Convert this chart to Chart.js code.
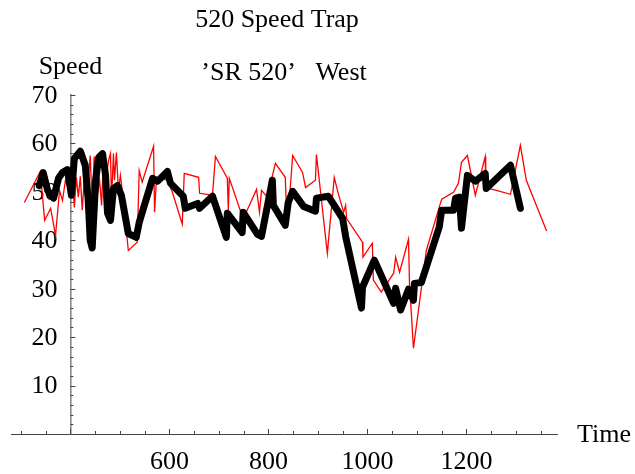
<!DOCTYPE html>
<html>
<head>
<meta charset="utf-8">
<script src="https://cdn.jsdelivr.net/npm/chart.js@4/dist/chart.umd.min.js"></script>
<style>
  html, body { margin: 0; padding: 0; background: #fff; }
  #wrap { width: 635px; height: 474px; }
</style>
</head>
<body>
<div id="wrap"><canvas id="speedChart" width="635" height="474"></canvas></div>
<script>
// raw detector readings (thin red) and the smoothed trace (thick black)
const rawTime = [307, 339, 348, 360, 370, 378, 384, 390, 396, 404, 408, 412, 416, 420, 424, 428, 432, 436, 440, 444,
  448, 453, 459, 463, 467, 473, 477, 481, 483, 487, 489, 493, 497, 501, 507, 517, 535, 539, 545, 568,
  570, 574, 596, 606, 626, 630, 659, 661, 687, 693, 717, 719, 721, 743, 756, 776, 782, 786, 798, 814,
  834, 838, 849, 869, 875, 895, 897, 919, 933, 941, 952, 956, 958, 990, 991, 1010, 1012, 1028, 1053, 1057,
  1065, 1083, 1085, 1093, 1119, 1150, 1174, 1184, 1190, 1202, 1218, 1238, 1239, 1289, 1309, 1321, 1362];
const rawSpeed = [47.8, 54.2, 44.1, 46.6, 41.0, 50.3, 48.2, 52.4, 50.7, 52.8, 46.8, 53.0, 48.9, 53.2, 46.2, 52.8, 49.3, 51.8, 57.5, 47.2,
  57.3, 48.2, 52.4, 47.2, 57.1, 53.4, 56.5, 57.9, 48.2, 57.9, 52.4, 58.1, 50.3, 53.4, 48.2, 37.9, 39.6, 54.4, 52.0, 59.4,
  45.8, 53.0, 52.4, 49.9, 43.3, 53.8, 53.0, 49.7, 49.3, 57.3, 52.8, 46.2, 52.8, 46.2, 46.0, 50.5, 45.8, 50.3, 48.9, 55.9,
  53.0, 42.5, 57.5, 54.0, 50.9, 52.4, 57.7, 37.3, 53.0, 49.7, 45.8, 47.2, 44.5, 39.6, 36.5, 39.4, 31.8, 29.3, 33.2, 36.5,
  33.4, 40.2, 31.1, 17.7, 37.9, 48.5, 49.9, 51.8, 56.1, 57.5, 49.3, 57.3, 50.9, 49.5, 59.6, 52.4, 41.9];

const smoothTime = [337, 345, 354, 366, 376, 384, 394, 402, 408, 420, 430, 436, 440, 444, 451, 457, 465, 471, 475, 481,
  487, 495, 503, 517, 533, 539, 566, 576, 596, 602, 628, 632, 657, 661, 687, 715, 717, 747, 749, 778,
  786, 808, 810, 834, 840, 849, 871, 895, 897, 921, 950, 956, 988, 990, 1014, 1053, 1057, 1067, 1083, 1093,
  1095, 1109, 1145, 1150, 1174, 1178, 1186, 1190, 1202, 1218, 1238, 1240, 1289, 1309];
const smoothSpeed = [51.3, 54.0, 50.3, 48.7, 52.8, 54.0, 54.6, 49.3, 56.9, 58.4, 55.5, 48.2, 40.0, 38.4, 52.4, 57.1, 57.9, 53.4, 45.6, 44.1,
  50.7, 51.3, 49.3, 41.4, 40.6, 43.7, 52.8, 52.2, 54.2, 51.8, 49.1, 46.6, 47.6, 46.6, 49.1, 40.6, 45.6, 41.6, 45.8, 41.2,
  40.8, 52.4, 47.2, 43.1, 47.8, 50.1, 47.0, 46.0, 48.7, 49.1, 44.5, 40.8, 26.0, 30.3, 35.9, 27.0, 30.1, 25.6, 29.9, 27.6,
  31.1, 31.3, 42.7, 46.2, 46.2, 48.7, 48.9, 42.5, 53.4, 52.2, 53.8, 50.7, 55.5, 46.6];

const xTickLabels = [600, 800, 1000, 1200];
const yTickLabels = [10, 20, 30, 40, 50, 60, 70];

const serif = '"Liberation Serif", "Times New Roman", Times, serif';

// ejes al estilo Mathematica: cruzan en (400, 0), marcas hacia dentro
const axesPlugin = {
  id: 'axesPlugin',
  beforeDatasetsDraw(chart) {
    const ctx = chart.ctx;
    const xs = chart.scales.x;
    const ys = chart.scales.y;
    const y0 = ys.getPixelForValue(0);
    const x0 = xs.getPixelForValue(400);

    ctx.save();
    ctx.strokeStyle = '#444';
    ctx.lineWidth = 1;
    ctx.beginPath();
    ctx.moveTo(chart.chartArea.left, y0 + 0.5);
    ctx.lineTo(chart.chartArea.right, y0 + 0.5);
    ctx.moveTo(x0 + 0.5, y0);
    ctx.lineTo(x0 + 0.5, ys.getPixelForValue(70) - 1);
    ctx.stroke();

    ctx.beginPath();
    for (let t = 300; t <= 1350; t += 50) {
      const px = Math.round(xs.getPixelForValue(t)) + 0.5;
      const len = t % 200 === 0 ? 5 : 3;
      ctx.moveTo(px, y0);
      ctx.lineTo(px, y0 - len);
    }
    for (let v = 2; v <= 70; v += 2) {
      const py = Math.round(ys.getPixelForValue(v)) + 0.5;
      const len = v % 10 === 0 ? 5 : 3;
      ctx.moveTo(x0, py);
      ctx.lineTo(x0 + len, py);
    }
    ctx.stroke();

    ctx.fillStyle = '#000';
    ctx.font = '26px ' + serif;
    ctx.textAlign = 'center';
    ctx.textBaseline = 'top';
    xTickLabels.forEach(t => ctx.fillText(String(t), xs.getPixelForValue(t), y0 + 15));
    ctx.textAlign = 'right';
    ctx.textBaseline = 'middle';
    yTickLabels.forEach(v => ctx.fillText(String(v), x0 - 13, ys.getPixelForValue(v) + 1));

    ctx.textAlign = 'left';
    ctx.fillText('Time', 577, y0 + 1);
    ctx.textAlign = 'center';
    ctx.fillText('Speed', x0, 67);
    ctx.fillText('520 Speed Trap', 277, 20);
    ctx.fillText('\u2019SR 520\u2019   West', 284, 73);
    ctx.restore();
  }
};

const speedChart = new Chart(document.getElementById('speedChart').getContext('2d'), {
  type: 'line',
  data: {
    datasets: [
      {
        label: 'Raw',
        data: rawTime.map((t, i) => ({ x: t, y: rawSpeed[i] })),
        borderColor: '#ff0000',
        borderWidth: 1.3,
        pointRadius: 0,
        tension: 0,
        order: 2
      },
      {
        label: 'Smoothed',
        data: smoothTime.map((t, i) => ({ x: t, y: smoothSpeed[i] })),
        borderColor: '#000000',
        borderWidth: 7,
        borderJoinStyle: 'round',
        borderCapStyle: 'round',
        pointRadius: 0,
        tension: 0,
        order: 1
      }
    ]
  },
  options: {
    responsive: false,
    animation: false,
    layout: { padding: { left: 11, right: 77, top: 95, bottom: 40 } },
    plugins: { legend: { display: false }, tooltip: { enabled: false } },
    scales: {
      x: { type: 'linear', min: 280, max: 1385, display: false },
      y: { type: 'linear', min: 0, max: 70, display: false }
    }
  },
  plugins: [axesPlugin]
});
</script>
</body>
</html>
